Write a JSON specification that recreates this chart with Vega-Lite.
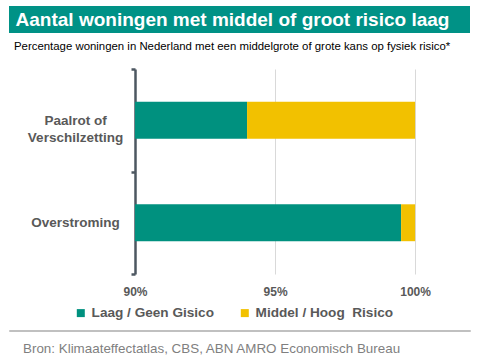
{
  "$schema": "https://vega.github.io/schema/vega-lite/v6.json",
  "padding": {"left": 8, "top": 6, "right": 9, "bottom": 0},
  "background": "white",
  "spacing": 9,
  "config": {"font": "Liberation Sans", "view": {"stroke": null}},
  "vconcat": [
    {
      "width": 461,
      "height": 27,
      "view": {"fill": "#009286", "stroke": null},
      "title": {
        "text": "Percentage woningen in Nederland met een middelgrote of grote kans op fysiek risico*",
        "orient": "bottom",
        "anchor": "start",
        "fontSize": 11.4,
        "fontWeight": "normal",
        "color": "#000000",
        "offset": 8,
        "dx": 5
      },
      "data": {"values": [{"t": "Aantal woningen met middel of groot risico laag"}]},
      "mark": {"type": "text", "fontSize": 19, "fontWeight": "bold", "color": "white", "baseline": "middle", "dx": -7},
      "encoding": {"text": {"field": "t"}}
    },
    {
      "width": 461,
      "height": 205,
      "data": {
        "values": [
          {"categorie": "Paalrot of Verschilzetting", "risico": "Laag / Geen Gisico", "van": 90, "tot": 94.0},
          {"categorie": "Paalrot of Verschilzetting", "risico": "Middel / Hoog\u00a0 Risico", "van": 94.0, "tot": 100},
          {"categorie": "Overstroming", "risico": "Laag / Geen Gisico", "van": 90, "tot": 99.5},
          {"categorie": "Overstroming", "risico": "Middel / Hoog\u00a0 Risico", "van": 99.5, "tot": 100}
        ]
      },
      "mark": {"type": "bar", "height": {"band": 0.36}},
      "encoding": {
        "x": {
          "field": "van",
          "type": "quantitative",
          "scale": {"domain": [85.5, 101.96], "nice": false, "zero": false},
          "axis": {
            "title": null,
            "values": [90, 95, 100],
            "labelExpr": "datum.value + '%'",
            "domain": false,
            "ticks": false,
            "grid": true,
            "gridColor": "#d9d9d9",
            "labelFontSize": 12,
            "labelFontWeight": "bold",
            "labelColor": "#595959",
            "labelPadding": 12,
            "labelFlush": false,
            "minExtent": 41
          }
        },
        "x2": {"field": "tot"},
        "y": {
          "field": "categorie",
          "type": "nominal",
          "sort": null,
          "scale": {"paddingInner": 0, "paddingOuter": 0},
          "axis": {
            "title": null,
            "offset": -126,
            "domain": true,
            "domainColor": "#4d5761",
            "domainWidth": 2.5,
            "ticks": true,
            "tickBand": "extent",
            "tickColor": "#4d5761",
            "tickWidth": 2.5,
            "tickSize": 4,
            "labelAlign": "center",
            "labelPadding": 56,
            "labelFontSize": 13.5,
            "labelFontWeight": "bold",
            "labelColor": "#595959",
            "labelLineHeight": 17,
            "labelExpr": "datum.label == 'Paalrot of Verschilzetting' ? ['Paalrot of', 'Verschilzetting'] : datum.label"
          }
        },
        "color": {
          "field": "risico",
          "type": "nominal",
          "scale": {"domain": ["Laag / Geen Gisico", "Middel / Hoog\u00a0 Risico"], "range": ["#00917F", "#F2C100"]},
          "legend": {
            "title": null,
            "orient": "none",
            "legendX": 65,
            "legendY": 300,
            "direction": "horizontal",
            "symbolType": "square",
            "symbolSize": 64,
            "symbolStrokeWidth": 0,
            "labelFontSize": 13.6,
            "labelFontWeight": "bold",
            "labelColor": "#595959",
            "columnPadding": 24,
            "labelOffset": 4
          }
        }
      }
    },
    {
      "width": 461,
      "height": 1,
      "view": {"stroke": "#c0c0c0", "strokeWidth": 1},
      "title": {
        "text": "Bron: Klimaateffectatlas, CBS, ABN AMRO Economisch Bureau",
        "orient": "bottom",
        "anchor": "start",
        "fontSize": 13.4,
        "fontWeight": "normal",
        "color": "#7f7f7f",
        "offset": 6,
        "dx": 14
      },
      "data": {"values": [{"s": ""}]},
      "mark": "text",
      "encoding": {"text": {"field": "s"}}
    }
  ]
}
